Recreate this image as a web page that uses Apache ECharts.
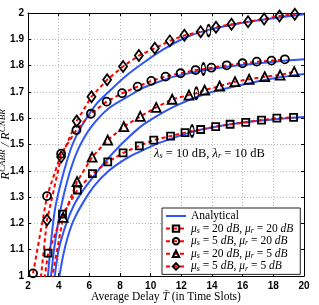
<!DOCTYPE html>
<html><head><meta charset="utf-8">
<script src="https://cdn.jsdelivr.net/npm/echarts@6/dist/echarts.min.js"></script>
<style>html,body{margin:0;padding:0;background:#fff}#c{width:319px;height:305px}</style>
</head><body><div id="c"></div>
<script>
// ---- data ----
const xRange = [2, 20, 2];
const yRange = [1, 2, 0.1];

// simulation points (red dashed with markers); y<1 points are clipped lead-ins
const sq = [[2.5,0.754],[3.31,1.087],[4.25,1.235],[5.22,1.327],[6.2,1.389],[7.2,1.434],[8.2,1.468],[9.26,1.495],[10.2,1.517],[11.3,1.532],[12.24,1.545],[12.7,1.551],[13.26,1.557],[14.24,1.568],[15.18,1.577],[16.2,1.584],[17.23,1.593],[18.23,1.600],[19.32,1.603]];
const ci = [[2.33,1.01],[3.24,1.304],[4.16,1.465],[5.16,1.555],[6.1,1.617],[7.13,1.663],[8.14,1.695],[9.15,1.72],[10.04,1.742],[10.97,1.758],[11.95,1.771],[12.93,1.783],[13.44,1.787],[13.96,1.792],[14.96,1.801],[15.99,1.809],[16.92,1.815],[17.88,1.819],[18.75,1.824]];
const tr = [[3.3,0.908],[4.29,1.223],[5.2,1.359],[6.18,1.452],[7.2,1.517],[8.25,1.568],[9.32,1.607],[10.36,1.641],[11.4,1.672],[12.5,1.688],[12.98,1.695],[13.52,1.707],[14.5,1.722],[15.5,1.739],[16.42,1.748],[17.44,1.758],[18.44,1.764],[19.36,1.777]];
const di = [[2.5,0.81],[3.24,1.213],[4.16,1.452],[5.18,1.589],[6.14,1.682],[7.16,1.746],[8.2,1.797],[9.23,1.838],[10.27,1.866],[11.25,1.894],[12.2,1.915],[13.26,1.929],[13.78,1.933],[14.26,1.946],[15.27,1.957],[16.35,1.967],[17.4,1.977],[18.4,1.989],[19.4,1.995]];
// x positions of the narrow elliptical markers in each series
const sqEll = [12.7];
const ciEll = [13.44];
const trEll = [12.98];
const diEll = [13.78];

// analytical curves (blue)
const diA = [[3.3,1.0],[3.5,1.13],[3.75,1.25],[4.0,1.32],[4.4,1.41],[4.9,1.5],[5.5,1.57],[6.4,1.65],[7.2,1.697],[8.5,1.766],[9.8,1.822],[10.7,1.857],[12.2,1.905],[13.7,1.935],[15.9,1.962],[18,1.98],[20,1.995]];
const ciA = [[3.5,1.0],[3.7,1.1],[3.9,1.18],[4.22,1.28],[4.7,1.39],[5.3,1.485],[6.1,1.565],[7.27,1.638],[8.8,1.692],[9.34,1.711],[10.65,1.741],[11.52,1.758],[13.7,1.784],[15.88,1.802],[18.05,1.815],[20,1.824]];
const trA = [[3.75,1.0],[4.0,1.1],[4.5,1.2],[5.0,1.27],[5.5,1.318],[6.0,1.358],[7.0,1.432],[8.1,1.502],[9.3,1.566],[10.0,1.594],[11.52,1.644],[13.7,1.695],[15.88,1.726],[18.05,1.752],[20,1.768]];
const sqA = [[4.05,1.0],[4.3,1.08],[4.6,1.15],[5.0,1.215],[5.6,1.28],[6.4,1.348],[7.27,1.4],[8.14,1.437],[9.0,1.465],[10.0,1.492],[10.65,1.508],[12.83,1.55],[15,1.575],[17.18,1.591],[20,1.605]];

const legendText = {
  'Analytical': '{t|Analytical}',
  's20r20': '{m|μ}{s|s}{t| = 20 }{m|dB}{t|, }{m|μ}{s|r}{t| = 20 }{m|dB}',
  's5r20': '{m|μ}{s|s}{t| = 5 }{m|dB}{t|, }{m|μ}{s|r}{t| = 20 }{m|dB}',
  's20r5': '{m|μ}{s|s}{t| = 20 }{m|dB}{t|, }{m|μ}{s|r}{t| = 5 }{m|dB}',
  's5r5': '{m|μ}{s|s}{t| = 5 }{m|dB}{t|, }{m|μ}{s|r}{t| = 5 }{m|dB}'
};

const SERIF = 'Liberation Serif';
const BLUE = '#2f55f5';
const RED = '#ff0000';

function simData(pts, ell) {
  return pts.map(p => {
    if (p[1] < 1) return {value: p, symbol: 'none'};
    if (ell.indexOf(p[0]) >= 0) return {value: p, symbol: 'circle', symbolSize: [4, 11]};
    return {value: p};
  });
}
function sim(name, pts, ell, symbol, size) {
  return {
    name, type: 'line', data: simData(pts, ell), symbol, symbolSize: size,
    showAllSymbol: true, clip: true, z: 3,
    lineStyle: {color: RED, width: 2, type: [4, 3]},
    itemStyle: {color: 'rgba(255,255,255,0)', borderColor: '#000', borderWidth: 1.8},
    emphasis: {disabled: true}
  };
}
function ana(pts) {
  return {
    name: 'Analytical', type: 'line', data: pts, symbol: 'none', smooth: 0.3, clip: true, z: 2,
    lineStyle: {color: BLUE, width: 2}, itemStyle: {color: BLUE}, emphasis: {disabled: true}
  };
}

const chart = echarts.init(document.getElementById('c'));
const axisLabelStyle = {fontFamily: 'Liberation Sans', fontWeight: 'bold', fontSize: 10, color: '#000'};
chart.setOption({
  animation: false,
  backgroundColor: '#fff',
  grid: {left: 28, right: 15, top: 13, bottom: 29, outerBoundsMode: 'none', containLabel: false},
  xAxis: [{
    type: 'value', min: xRange[0], max: xRange[1], interval: xRange[2],
    axisLine: {onZero: false, lineStyle: {color: '#000', width: 1}},
    axisTick: {inside: true, length: 3, lineStyle: {color: '#000'}},
    axisLabel: Object.assign({margin: 5}, axisLabelStyle),
    splitLine: {show: true, lineStyle: {color: '#bbb', type: [1, 2], width: 1}},
    name: 'Average Delay {m|T̄} (in Time Slots)', nameLocation: 'middle', nameGap: 15,
    nameMoveOverlap: false,
    nameTextStyle: {fontFamily: SERIF, fontSize: 11.5, color: '#000',
      rich: {m: {fontFamily: SERIF, fontStyle: 'italic', fontSize: 11.5}}}
  }, {
    type: 'value', position: 'top', min: xRange[0], max: xRange[1], interval: xRange[2],
    axisLine: {onZero: false, lineStyle: {color: '#000', width: 1}},
    axisTick: {inside: true, length: 3, lineStyle: {color: '#000'}},
    axisLabel: {show: false}, splitLine: {show: false}
  }],
  yAxis: [{
    type: 'value', min: yRange[0], max: yRange[1], interval: yRange[2],
    axisLine: {onZero: false, lineStyle: {color: '#000', width: 1}},
    axisTick: {inside: true, length: 3, lineStyle: {color: '#000'}},
    axisLabel: Object.assign({margin: 4, formatter: v => String(+v.toFixed(1))}, axisLabelStyle),
    splitLine: {show: true, lineStyle: {color: '#bbb', type: [1, 2], width: 1}},
    name: '{r|R̄}{p|CABR}{r| / R̄}{p|CNBR}', nameLocation: 'middle', nameGap: 15, nameRotate: 90,
    nameMoveOverlap: false,
    nameTextStyle: {color: '#000', fontFamily: SERIF,
      rich: {
        r: {fontFamily: SERIF, fontStyle: 'italic', fontSize: 12.5, lineHeight: 15, color: '#000'},
        p: {fontFamily: SERIF, fontStyle: 'italic', fontSize: 9, lineHeight: 9, verticalAlign: 'top', color: '#000'}
      }}
  }, {
    type: 'value', position: 'right', min: yRange[0], max: yRange[1], interval: yRange[2],
    axisLine: {onZero: false, lineStyle: {color: '#000', width: 1}},
    axisTick: {inside: true, length: 3, lineStyle: {color: '#000'}},
    axisLabel: {show: false}, splitLine: {show: false}
  }],
  legend: {
    data: [{name: 'Analytical', icon: 'path://M0,0 L20,0 L20,2 L0,2 Z'}, 's20r20', 's5r20', 's20r5', 's5r5'],
    orient: 'vertical', left: 162, top: 208,
    padding: [2, 7, 2, 3], itemGap: 0.6, itemWidth: 20, itemHeight: 8,
    backgroundColor: '#fff', borderColor: '#222', borderWidth: 1, borderRadius: 0,
    selectedMode: false,
    formatter: n => legendText[n],
    textStyle: {fontFamily: SERIF, fontSize: 11.5, color: '#000',
      rich: {
        t: {fontFamily: SERIF, fontSize: 11.5, lineHeight: 12, color: '#000'},
        m: {fontFamily: SERIF, fontStyle: 'italic', fontSize: 11.5, lineHeight: 12, color: '#000'},
        s: {fontFamily: SERIF, fontStyle: 'italic', fontSize: 8, lineHeight: 8, verticalAlign: 'bottom', color: '#000'}
      }}
  },
  graphic: [{
    type: 'text', left: 154, top: 147, z: 10,
    style: {
      text: '{m|λ}{s|s}{t| = 10 dB, }{m|λ}{s|r}{t| = 10 dB}',
      fill: '#000', font: '12px "Liberation Serif"',
      rich: {
        t: {fontFamily: SERIF, fontSize: 12.5, lineHeight: 14, fill: '#000'},
        m: {fontFamily: SERIF, fontStyle: 'italic', fontSize: 12.5, lineHeight: 14, fill: '#000'},
        s: {fontFamily: SERIF, fontStyle: 'italic', fontSize: 8.5, lineHeight: 9, verticalAlign: 'bottom', fill: '#000'}
      }
    }
  }],
  series: [
    ana(diA), ana(ciA), ana(trA), ana(sqA),
    sim('s20r20', sq, sqEll, 'rect', 7),
    sim('s5r20', ci, ciEll, 'circle', 8),
    sim('s20r5', tr, trEll, 'triangle', 9),
    sim('s5r5', di, diEll, 'diamond', [8, 11])
  ]
});
</script>
</body></html>
